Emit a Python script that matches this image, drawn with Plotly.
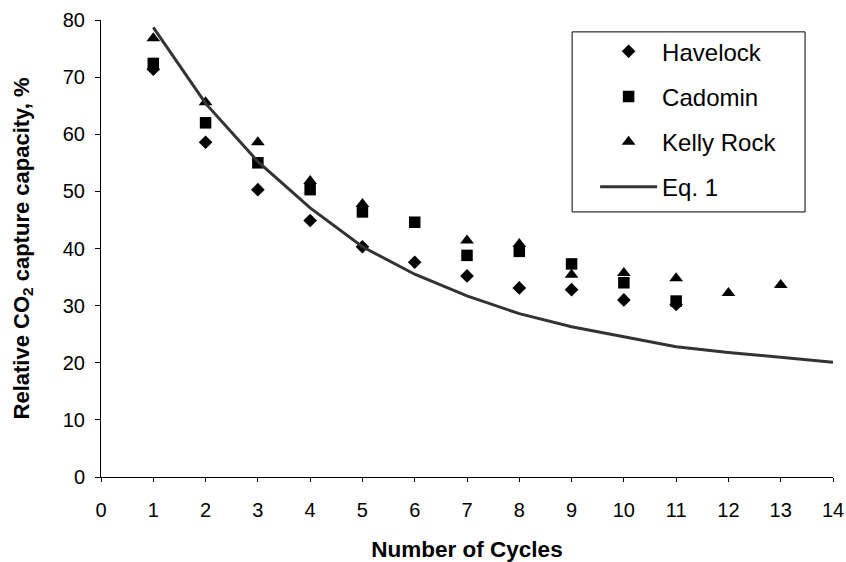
import plotly.graph_objects as go

cycles = list(range(1, 15))

havelock_x = [1, 2, 3, 4, 5, 6, 7, 8, 9, 10, 11]
havelock_y = [71.4, 58.6, 50.3, 44.9, 40.3, 37.6, 35.2, 33.1, 32.8, 31.0, 30.2]

cadomin_x = [1, 2, 3, 4, 5, 6, 7, 8, 9, 10, 11]
cadomin_y = [72.4, 62.0, 55.0, 50.3, 46.4, 44.6, 38.8, 39.5, 37.3, 34.0, 30.8]

kelly_x = [1, 2, 3, 4, 5, 7, 8, 9, 10, 11, 12, 13]
kelly_y = [76.8, 65.6, 58.6, 51.8, 47.8, 41.4, 40.8, 35.4, 35.7, 34.8, 32.2, 33.6]

eq1_y = [78.7, 65.4, 55.2, 47.1, 40.3, 35.5, 31.7, 28.6, 26.3, 24.6, 22.8, 21.8, 20.9, 20.1]

font_family = "Arial, Liberation Sans, sans-serif"

fig = go.Figure()
fig.add_trace(go.Scatter(x=havelock_x, y=havelock_y, mode="markers", name="Havelock",
                         legendgroup="a",
                         marker=dict(symbol="diamond", size=10.5, color="black")))
fig.add_trace(go.Scatter(x=cadomin_x, y=cadomin_y, mode="markers", name="Cadomin",
                         legendgroup="b",
                         marker=dict(symbol="square", size=11.5, color="black")))
fig.add_trace(go.Scatter(x=kelly_x, y=kelly_y, mode="markers", name="Kelly Rock",
                         legendgroup="c",
                         marker=dict(symbol="triangle-up", size=12, color="black")))
fig.add_trace(go.Scatter(x=cycles, y=eq1_y, mode="lines", name="Eq. 1",
                         legendgroup="d",
                         line=dict(color="#333333", width=3)))

# legend frame (drawn as a layout shape so the frame can be wider than the entries)
fig.add_shape(type="rect", xref="paper", yref="paper",
              x0=0.6436, x1=0.9618, y0=0.580, y1=0.974,
              line=dict(color="black", width=1), fillcolor="rgba(0,0,0,0)", layer="above")

fig.update_layout(
    width=846, height=562,
    margin=dict(l=101, r=13, t=20, b=85),
    paper_bgcolor="white", plot_bgcolor="white",
    font=dict(family=font_family, size=20, color="black"),
    showlegend=True,
    legend=dict(x=0.675, y=0.980, xanchor="left", yanchor="top",
                borderwidth=0, bgcolor="rgba(0,0,0,0)",
                font=dict(size=24), tracegroupgap=11, itemwidth=57),
    xaxis=dict(range=[0, 14], tickmode="linear", tick0=0, dtick=1,
               showgrid=False, zeroline=False, showline=True, linecolor="black",
               linewidth=1, ticks="outside", ticklen=4, tickcolor="black",
               tickfont=dict(size=20), automargin=False, ticklabelstandoff=11,
               ticklabeloverflow="allow",
               title=dict(text="<b>Number of Cycles</b>", font=dict(size=22.5), standoff=21)),
    yaxis=dict(range=[0, 80], tickmode="linear", tick0=0, dtick=10,
               showgrid=False, zeroline=False, showline=True, linecolor="black",
               linewidth=1, ticks="outside", ticklen=5, tickcolor="black",
               tickfont=dict(size=20), automargin=False, ticklabelstandoff=6,
               title=dict(text="<b>Relative CO<sub>2</sub> capture capacity, %</b>",
                          font=dict(size=22), standoff=27)),
)

fig.write_html("out.html",
               config={"displayModeBar": False},
               post_script="document.body.style.margin='0';document.body.style.overflow='hidden';")
